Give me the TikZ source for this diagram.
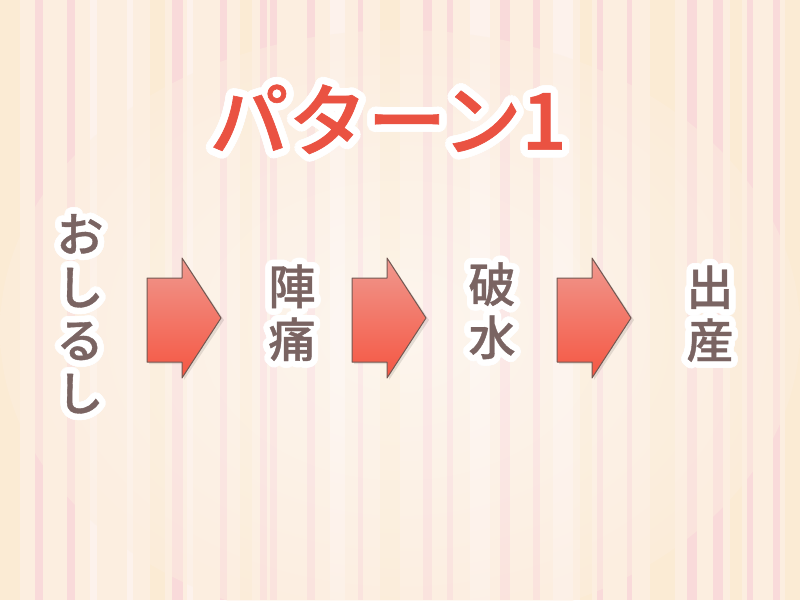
\documentclass[tikz,border=0pt]{standalone}
\usepackage{fontspec}
\usepackage[copies]{contour}
\newfontfamily\jp{Noto Sans CJK JP Medium}[FakeBold=0.8]
\definecolor{bgbase}{RGB}{252,238,224}
\definecolor{stripepink}{RGB}{248,205,215}
\definecolor{stripewhite}{RGB}{254,246,244}
\definecolor{stripeyellow}{RGB}{251,234,204}
\definecolor{txtgray}{RGB}{122,100,98}
\definecolor{titlered}{RGB}{234,82,66}
\definecolor{arrowtop}{RGB}{240,152,142}
\definecolor{arrowbot}{RGB}{245,86,66}
\definecolor{arrowline}{RGB}{115,88,82}
\contournumber{32}

\tikzset{
  titletext/.style={text=titlered, font=\jp\fontsize{79}{80}\selectfont, inner sep=0pt},
  steptext/.style={text=txtgray, font=\jp\fontsize{47}{53}\selectfont, align=center, inner sep=0pt},
  flowarrow/.style={draw=arrowline, line width=1pt, top color=arrowtop, bottom color=arrowbot, line join=round},
}

\begin{document}
\begin{tikzpicture}[x=1pt,y=-1pt]
	\useasboundingbox (0,0) rectangle (800,600);
	% background stripes
	\fill[bgbase] (0,0) rectangle (800,600);
	\foreach \a/\w/\c in {0/20/stripeyellow, 35/8/stripepink, 67/8/stripepink, 90/7/stripewhite,
		127/6/stripewhite, 150/15/stripeyellow, 172/11/stripepink, 187/6/stripewhite, 220/7/stripepink,
		240/12/stripeyellow, 260/7/stripepink, 270/7/stripepink, 307/8/stripepink, 330/15/stripewhite,
		358/5/stripepink, 380/20/stripeyellow, 423/9/stripepink, 447/6/stripepink, 470/20/stripewhite,
		500/10/stripepink, 533/7/stripepink, 553/20/stripewhite, 580/12/stripeyellow, 597/6/stripepink,
		627/5/stripepink, 650/25/stripeyellow, 687/10/stripepink, 713/10/stripepink, 730/12/stripeyellow,
		747/6/stripepink, 773/7/stripepink, 785/15/stripeyellow}{
		\fill[\c, opacity=0.6] (\a,0) rectangle ++(\w,600);
	}
	\shade[inner color=white, outer color=bgbase, opacity=0.45] (400,330) ellipse (400 and 300);

	% title
	\contourlength{7.5pt}
	\node[titletext] (title) at (388,123) {\contour{white}{パターン1}};

	% steps
	\contourlength{6.5pt}
	\node[steptext] (oshirushi) at (80,317) {\contour{white}{お}\\\contour{white}{し}\\\contour{white}{る}\\\contour{white}{し}};
	\node[steptext] (jintsu) at (292,316) {\contour{white}{陣}\\\contour{white}{痛}};
	\node[steptext] (hasui) at (492,314) {\contour{white}{破}\\\contour{white}{水}};
	\node[steptext] (shussan) at (710,317) {\contour{white}{出}\\\contour{white}{産}};

	% arrows
	\foreach \x in {147,352,557}{
		\fill[black, opacity=0.1] (\x+2,280) -- ++(35,0) -- ++(0,-20) -- ++(40,60) -- ++(-40,60) -- ++(0,-16) -- ++(-35,0) -- cycle;
		\draw[flowarrow] (\x,278) -- ++(35,0) -- ++(0,-20) -- ++(39,60) -- ++(-39,60) -- ++(0,-16) -- ++(-35,0) -- cycle;
	}
\end{tikzpicture}
\end{document}
